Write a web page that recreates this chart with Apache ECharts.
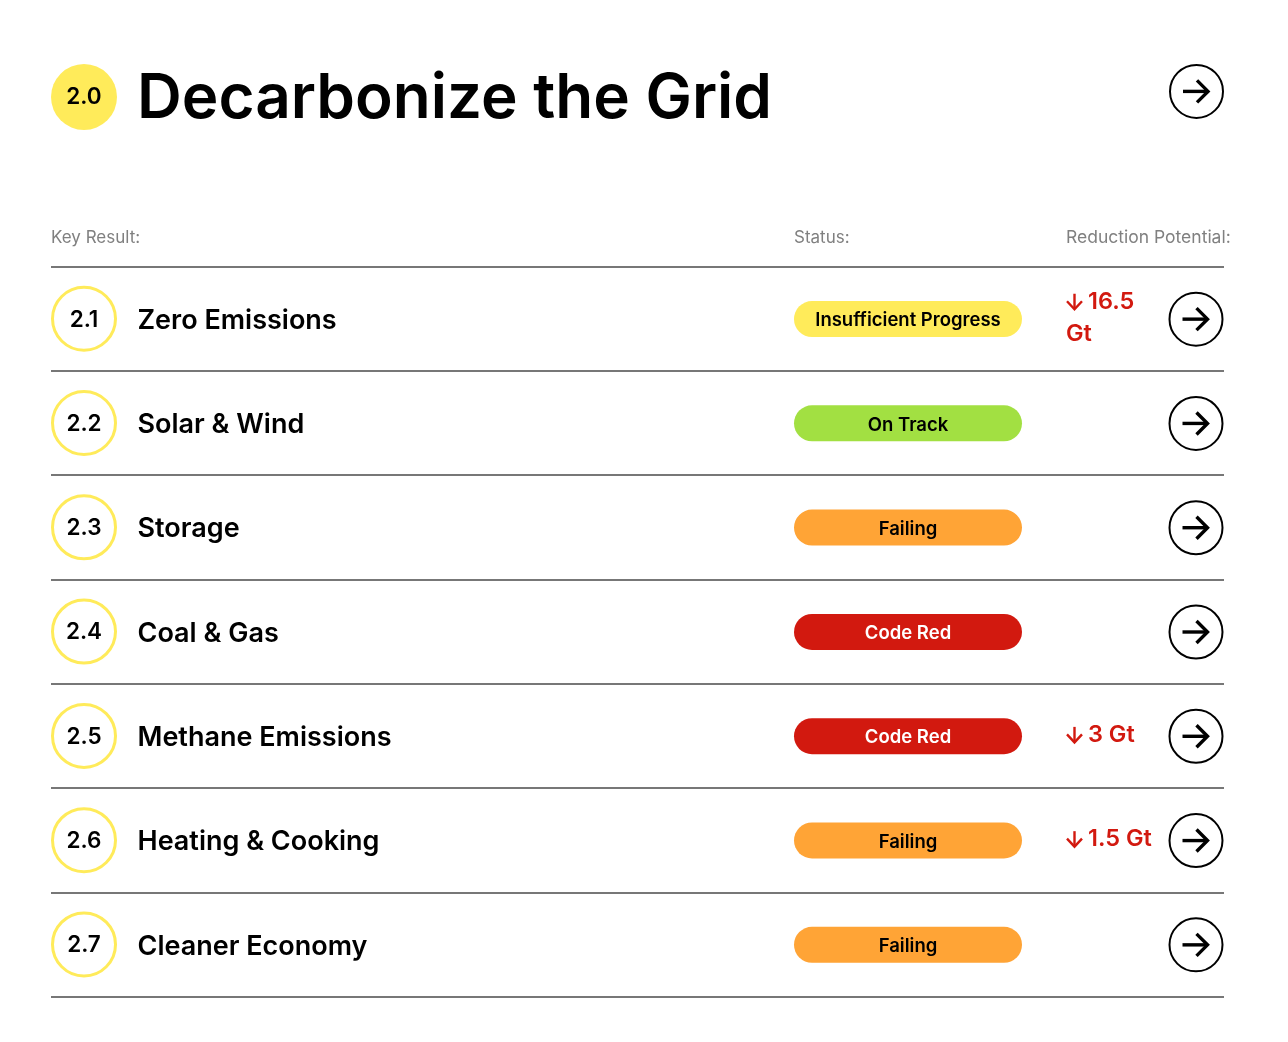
<!DOCTYPE html>
<html>
<head>
<meta charset="utf-8">
<title>Decarbonize the Grid</title>
<style>
html, body { margin: 0; padding: 0; background: #fff; }
#chart { width: 1288px; height: 1042px; }
</style>
<script src="https://cdn.jsdelivr.net/npm/echarts@6/dist/echarts.min.js"></script>
</head>
<body>
<div id="chart"></div>
<script>
var sectionId = '2.0';
var sectionTitle = 'Decarbonize the Grid';
var columnTitles = ['Key Result:', 'Status:', 'Reduction Potential:'];

var rowIds = ['2.1', '2.2', '2.3', '2.4', '2.5', '2.6', '2.7'];
var keyResults = ['Zero Emissions', 'Solar & Wind', 'Storage', 'Coal & Gas', 'Methane Emissions', 'Heating & Cooking', 'Cleaner Economy'];
var statuses = ['Insufficient Progress', 'On Track', 'Failing', 'Code Red', 'Code Red', 'Failing', 'Failing'];
var reductions = [16.5, null, null, null, 3, 1.5, null];
var reductionUnit = 'Gt';

var FONT = 'Inter, "Noto Sans", sans-serif';
var YELLOW = '#ffeb5a';
var RED = '#d2190f';
var statusStyle = {
    'Insufficient Progress': { fill: YELLOW, text: '#000' },
    'On Track': { fill: '#a2e042', text: '#000' },
    'Failing': { fill: '#ffa436', text: '#000' },
    'Code Red': { fill: RED, text: '#fff' }
};

var chart = echarts.init(document.getElementById('chart'));
var measure = document.createElement('canvas').getContext('2d');

// round button with an arrow, shared by the header and the rows
function arrowButton(cx, cy) {
    return {
        type: 'group',
        x: cx,
        y: cy,
        children: [
            { type: 'circle', shape: { cx: 0, cy: 0, r: 26.5 }, style: { fill: '#fff', stroke: '#000', lineWidth: 2 } },
            { type: 'polyline', shape: { points: [[-13.5, 0], [11, 0]] }, style: { fill: null, stroke: '#000', lineWidth: 3.4 } },
            { type: 'polyline', shape: { points: [[0.5, -11], [11.5, 0], [0.5, 11]] }, style: { fill: null, stroke: '#000', lineWidth: 3.4 } }
        ]
    };
}

function text(str, x, y, size, weight, color, align) {
    return {
        type: 'text',
        style: {
            text: str,
            x: x,
            y: y,
            fill: color,
            font: weight + ' ' + size + 'px ' + FONT,
            align: align || 'left',
            verticalAlign: 'middle'
        }
    };
}

// red down arrow + value; the unit drops to a second line if the column is too narrow
function reductionCell(value, x, cy) {
    var font = '600 23.5px ' + FONT;
    measure.font = font;
    var wrap = 22 + measure.measureText(value + ' ' + reductionUnit).width > 96;
    var y = wrap ? cy - 17 : cy - 1;
    var stroke = { fill: null, stroke: RED, lineWidth: 2.4 };
    var out = [
        { type: 'polyline', shape: { points: [[x + 8.5, y - 8], [x + 8.5, y + 7]] }, style: stroke },
        { type: 'polyline', shape: { points: [[x + 1, y - 0.5], [x + 8.5, y + 7.5], [x + 16, y - 0.5]] }, style: stroke }
    ];
    if (wrap) {
        out.push(text(value, x + 22, y, 23.5, 600, RED));
        out.push(text(reductionUnit, x, y + 32, 23.5, 600, RED));
    } else {
        out.push(text(value + ' ' + reductionUnit, x + 22, y, 23.5, 600, RED));
    }
    return out;
}

function renderRow(params, api) {
    var i = api.value(0);
    var p = api.coord([0, i]);
    var left = p[0];
    var cy = p[1];
    var st = statusStyle[statuses[i]];
    var children = [
        { type: 'circle', shape: { cx: left + 33, cy: cy, r: 31.5 }, style: { fill: '#fff', stroke: YELLOW, lineWidth: 3 } },
        text(rowIds[i], left + 33, cy + 1, 22.5, 600, '#000', 'center'),
        text(keyResults[i], left + 86.5, cy + 2, 27, 600, '#000'),
        { type: 'rect', shape: { x: left + 743, y: cy - 17.7, width: 228, height: 36, r: 18 }, style: { fill: st.fill } },
        text(statuses[i], left + 857, cy + 2, 18.5, 600, st.text, 'center'),
        arrowButton(left + 1145, cy + 0.4)
    ];
    if (reductions[i] != null) {
        children = children.concat(reductionCell(reductions[i], left + 1015, cy));
    }
    return { type: 'group', children: children };
}

var option = {
    animation: false,
    backgroundColor: '#fff',
    title: {
        text: sectionTitle,
        left: 132,
        top: 63,
        textStyle: { fontFamily: FONT, fontSize: 62, fontWeight: 600, color: '#000' }
    },
    grid: { left: 51, top: 266.6, width: 1173, height: 730 },
    xAxis: { type: 'value', min: 0, max: 1173, show: false },
    yAxis: {
        type: 'category',
        inverse: true,
        data: keyResults,
        axisLine: { show: false },
        axisTick: { show: false },
        axisLabel: { show: false },
        splitLine: { show: true, lineStyle: { color: '#777', width: 2 } }
    },
    series: [{
        type: 'custom',
        renderItem: renderRow,
        encode: { x: 1, y: 0 },
        data: keyResults.map(function (name, i) { return [i, 0]; })
    }],
    graphic: [
        { type: 'circle', shape: { cx: 84, cy: 97, r: 33 }, style: { fill: YELLOW } },
        text(sectionId, 84, 97, 22.5, 600, '#000', 'center'),
        arrowButton(1196.5, 91.4),
        text(columnTitles[0], 51, 238, 17, 400, '#808080'),
        text(columnTitles[1], 794, 238, 17, 400, '#808080'),
        text(columnTitles[2], 1066, 238, 17.5, 400, '#808080')
    ]
};

chart.setOption(option);
</script>
</body>
</html>
